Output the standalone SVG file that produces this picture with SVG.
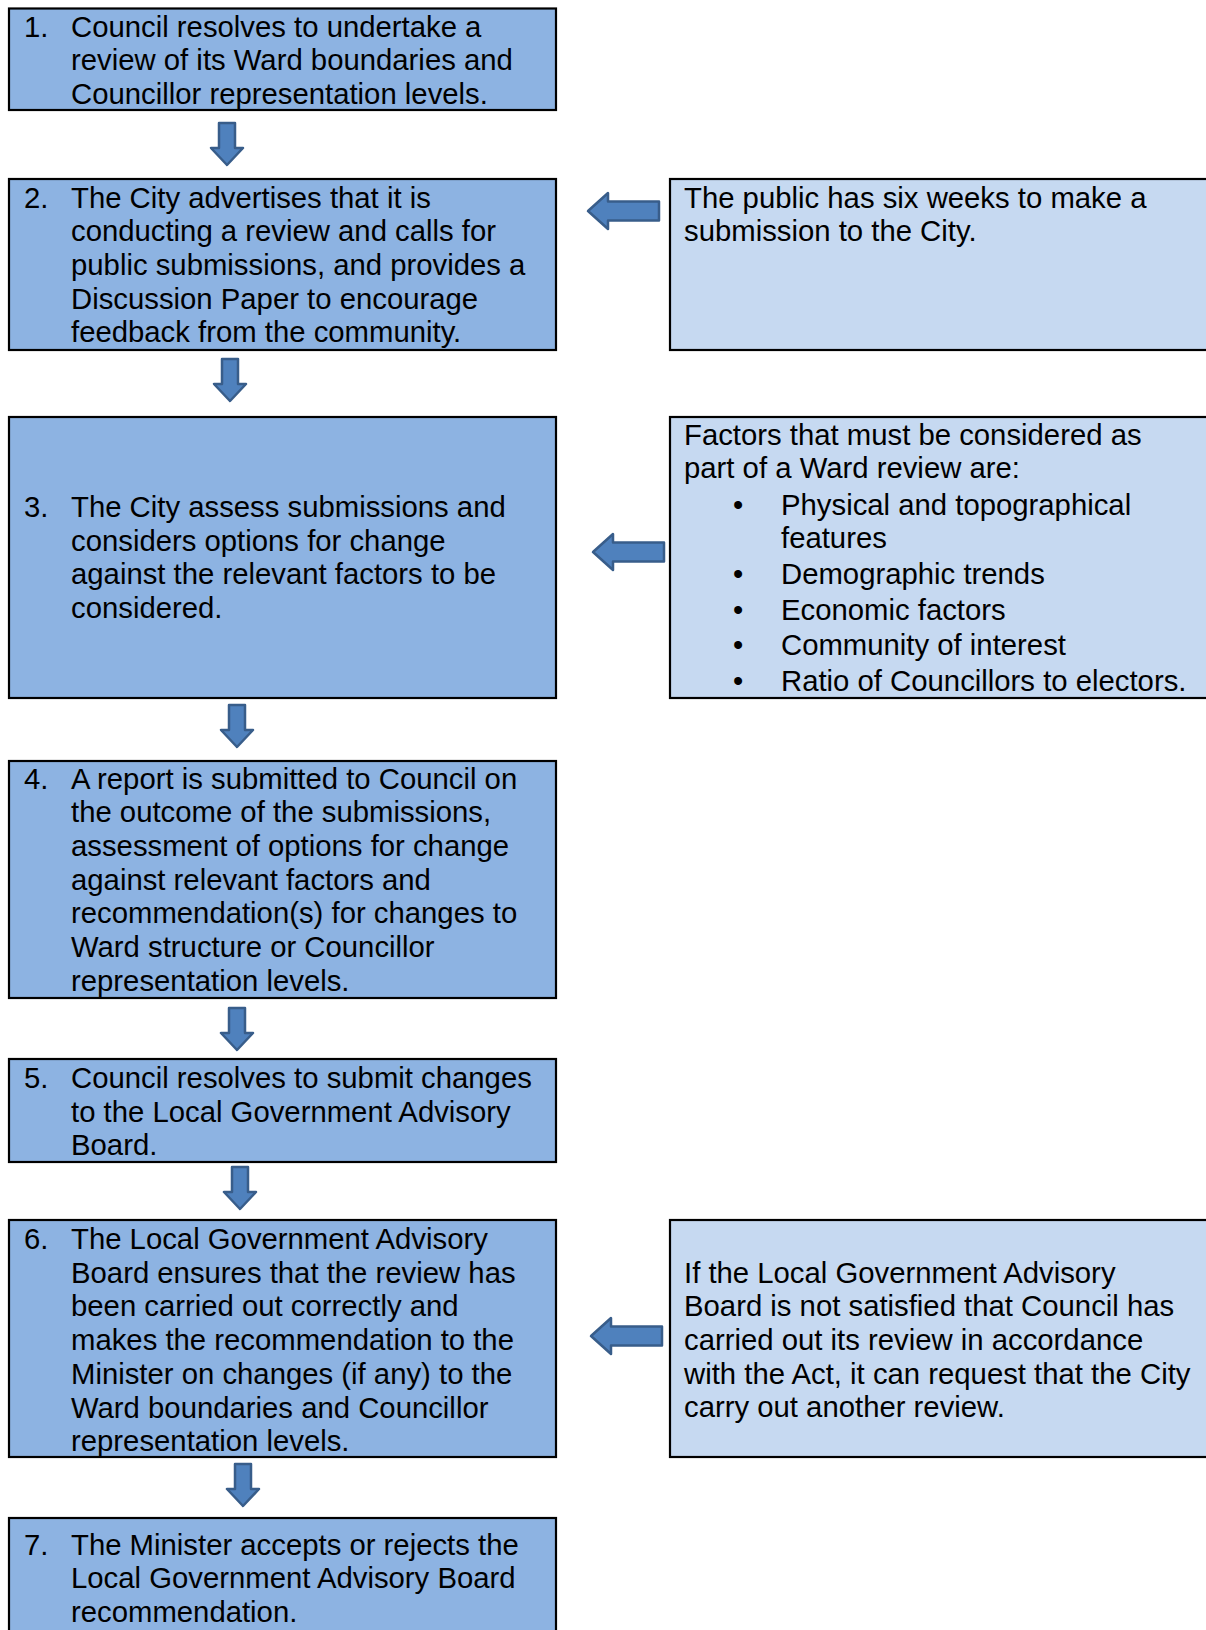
<svg xmlns="http://www.w3.org/2000/svg" width="1206" height="1630" viewBox="0 0 1206 1630">
<defs>
<style>
.dark{fill:#8DB3E2;stroke:#000;stroke-width:2.2}
.light{fill:#C6D9F1;stroke:#000;stroke-width:2.2}
text{font-family:"Liberation Sans",Arial,sans-serif;font-size:29.3px;fill:#000}
.arr{fill:#4F81BD;stroke:#385D8A;stroke-width:2.5;stroke-linejoin:round}
</style>
<path id="down" d="M-8,0 H8 V25 H16 L0,42 L-16,25 H-8 Z"/>
<path id="left" d="M0,0 L20,-18 V-9.5 H71 V9.5 H20 V18 Z"/>
</defs>
<rect width="1206" height="1630" fill="#fff"/>
<g id="connectors">
<use href="#down" class="arr" x="227" y="123"/>
<use href="#down" class="arr" x="230" y="359"/>
<use href="#down" class="arr" x="237" y="705"/>
<use href="#down" class="arr" x="237" y="1008"/>
<use href="#down" class="arr" x="240" y="1167"/>
<use href="#down" class="arr" x="243" y="1464"/>
<use href="#left" class="arr" x="588" y="211"/>
<use href="#left" class="arr" x="593" y="552"/>
<use href="#left" class="arr" x="591" y="1336"/>
</g>
<g id="step1">
<rect class="dark" x="9" y="8.5" width="547" height="101.5"/>
<text x="24" y="36.5">1.</text>
<text x="71" y="36.5">Council resolves to undertake a</text>
<text x="71" y="70">review of its Ward boundaries and</text>
<text x="71" y="103.5">Councillor representation levels.</text>
</g>
<g id="step2">
<rect class="dark" x="9" y="179" width="547" height="171"/>
<text x="24" y="207.5">2.</text>
<text x="71" y="207.5">The City advertises that it is</text>
<text x="71" y="241.2">conducting a review and calls for</text>
<text x="71" y="274.9">public submissions, and provides a</text>
<text x="71" y="308.6">Discussion Paper to encourage</text>
<text x="71" y="342.3">feedback from the community.</text>
</g>
<g id="note-public">
<rect class="light" x="670" y="179" width="545" height="171"/>
<text x="684" y="207.5">The public has six weeks to make a</text>
<text x="684" y="241.2">submission to the City.</text>
</g>
<g id="step3">
<rect class="dark" x="9" y="417" width="547" height="281"/>
<text x="24" y="516.8">3.</text>
<text x="71" y="516.8">The City assess submissions and</text>
<text x="71" y="550.5">considers options for change</text>
<text x="71" y="584.2">against the relevant factors to be</text>
<text x="71" y="617.9">considered.</text>
</g>
<g id="note-factors">
<rect class="light" x="670" y="417" width="545" height="281"/>
<text x="684" y="445">Factors that must be considered as</text>
<text x="684" y="478.4">part of a Ward review are:</text>
<text x="733" y="514.8">•</text><text x="781" y="514.8">Physical and topographical</text>
<text x="781" y="548.2">features</text>
<text x="733" y="584.4">•</text><text x="781" y="584.4">Demographic trends</text>
<text x="733" y="619.8">•</text><text x="781" y="619.8">Economic factors</text>
<text x="733" y="655">•</text><text x="781" y="655">Community of interest</text>
<text x="733" y="690.5">•</text><text x="781" y="690.5">Ratio of Councillors to electors.</text>
</g>
<g id="step4">
<rect class="dark" x="9" y="761" width="547" height="237"/>
<text x="24" y="788.5">4.</text>
<text x="71" y="788.5">A report is submitted to Council on</text>
<text x="71" y="822.2">the outcome of the submissions,</text>
<text x="71" y="855.9">assessment of options for change</text>
<text x="71" y="889.6">against relevant factors and</text>
<text x="71" y="923.3">recommendation(s) for changes to</text>
<text x="71" y="957">Ward structure or Councillor</text>
<text x="71" y="990.7">representation levels.</text>
</g>
<g id="step5">
<rect class="dark" x="9" y="1059" width="547" height="103"/>
<text x="24" y="1088">5.</text>
<text x="71" y="1088">Council resolves to submit changes</text>
<text x="71" y="1121.7">to the Local Government Advisory</text>
<text x="71" y="1155.4">Board.</text>
</g>
<g id="step6">
<rect class="dark" x="9" y="1220" width="547" height="237"/>
<text x="24" y="1249">6.</text>
<text x="71" y="1249">The Local Government Advisory</text>
<text x="71" y="1282.7">Board ensures that the review has</text>
<text x="71" y="1316.4">been carried out correctly and</text>
<text x="71" y="1350.1">makes the recommendation to the</text>
<text x="71" y="1383.8">Minister on changes (if any) to the</text>
<text x="71" y="1417.5">Ward boundaries and Councillor</text>
<text x="71" y="1451.2">representation levels.</text>
</g>
<g id="note-lgab">
<rect class="light" x="670" y="1220" width="545" height="237"/>
<text x="684" y="1282.5">If the Local Government Advisory</text>
<text x="684" y="1316.2">Board is not satisfied that Council has</text>
<text x="684" y="1349.9">carried out its review in accordance</text>
<text x="684" y="1383.6">with the Act, it can request that the City</text>
<text x="684" y="1417.3">carry out another review.</text>
</g>
<g id="step7">
<rect class="dark" x="9" y="1518" width="547" height="130"/>
<text x="24" y="1554.5">7.</text>
<text x="71" y="1554.5">The Minister accepts or rejects the</text>
<text x="71" y="1588.2">Local Government Advisory Board</text>
<text x="71" y="1621.9">recommendation.</text>
</g>
</svg>
